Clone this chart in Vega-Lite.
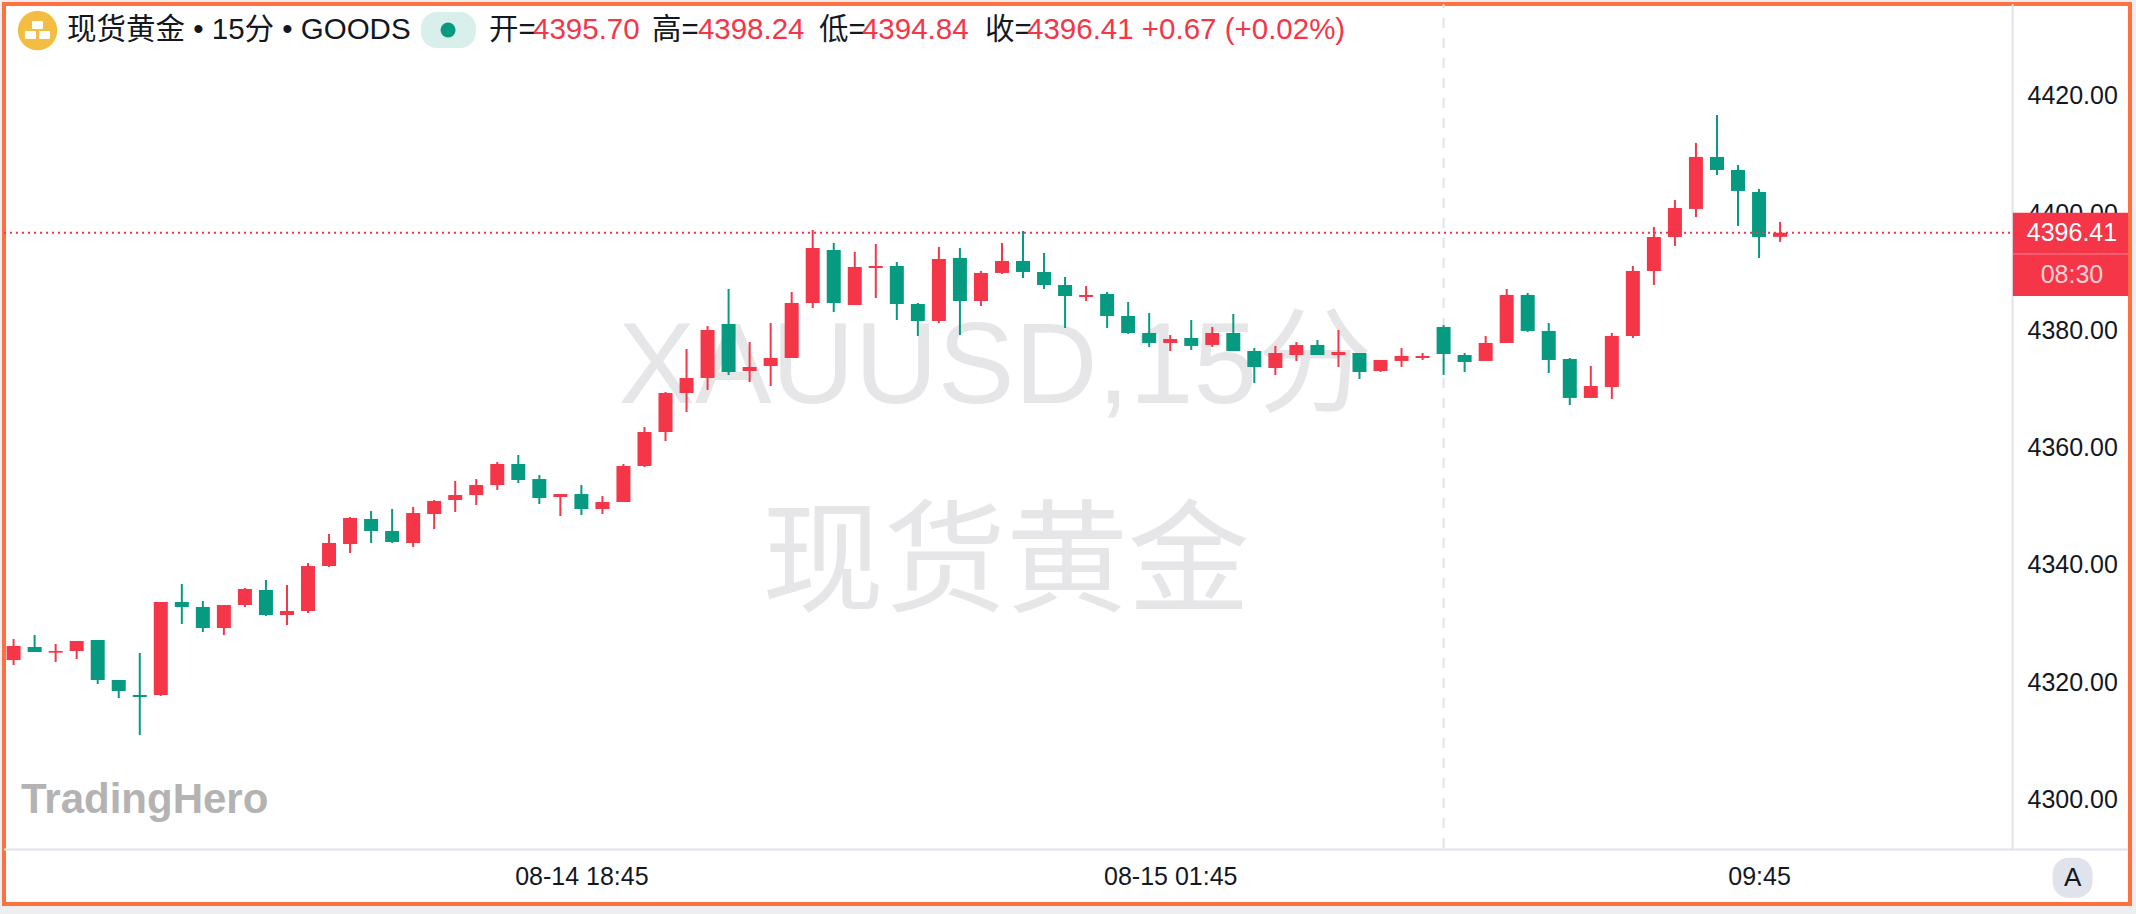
{
  "$schema": "https://vega.github.io/schema/vega-lite/v6.json",
  "width": 2126,
  "height": 900,
  "autosize": {"type": "none"},
  "padding": {"left": 4, "top": 4, "right": 6, "bottom": 10},
  "background": "#eeeef0",
  "view": {"fill": "#ffffff", "stroke": "#ff7040", "strokeWidth": 4},
  "config": {"font": "Liberation Sans, Noto Sans CJK SC"},
  "resolve": {"axis": {"x": "independent", "y": "independent"}},
  "datasets": {
    "candles": [
      {"bar":0,"open":4323.52,"high":4327.10,"low":4322.67,"close":4325.91,"dir":"up"},
      {"bar":1,"open":4325.74,"high":4327.79,"low":4324.89,"close":4324.89,"dir":"down"},
      {"bar":2,"open":4324.77,"high":4326.25,"low":4323.18,"close":4325.06,"dir":"up"},
      {"bar":3,"open":4325.06,"high":4326.76,"low":4323.69,"close":4326.76,"dir":"up"},
      {"bar":4,"open":4326.93,"high":4326.93,"low":4319.43,"close":4320.11,"dir":"down"},
      {"bar":5,"open":4320.11,"high":4320.11,"low":4317.04,"close":4318.23,"dir":"down"},
      {"bar":6,"open":4317.55,"high":4324.72,"low":4310.73,"close":4317.21,"dir":"down"},
      {"bar":7,"open":4317.55,"high":4333.42,"low":4317.38,"close":4333.42,"dir":"up"},
      {"bar":8,"open":4333.42,"high":4336.49,"low":4329.66,"close":4332.56,"dir":"down"},
      {"bar":9,"open":4332.56,"high":4333.59,"low":4328.30,"close":4328.98,"dir":"down"},
      {"bar":10,"open":4328.98,"high":4332.90,"low":4327.79,"close":4332.90,"dir":"up"},
      {"bar":11,"open":4332.90,"high":4335.80,"low":4332.56,"close":4335.63,"dir":"up"},
      {"bar":12,"open":4335.46,"high":4337.17,"low":4331.03,"close":4331.20,"dir":"down"},
      {"bar":13,"open":4331.20,"high":4336.32,"low":4329.49,"close":4331.88,"dir":"up"},
      {"bar":14,"open":4331.88,"high":4340.06,"low":4331.53,"close":4339.55,"dir":"up"},
      {"bar":15,"open":4339.55,"high":4345.01,"low":4339.38,"close":4343.48,"dir":"up"},
      {"bar":16,"open":4343.30,"high":4347.91,"low":4341.77,"close":4347.74,"dir":"up"},
      {"bar":17,"open":4347.57,"high":4348.93,"low":4343.48,"close":4345.52,"dir":"down"},
      {"bar":18,"open":4345.52,"high":4349.28,"low":4343.48,"close":4343.65,"dir":"down"},
      {"bar":19,"open":4343.48,"high":4349.62,"low":4342.79,"close":4348.59,"dir":"up"},
      {"bar":20,"open":4348.42,"high":4350.81,"low":4345.86,"close":4350.64,"dir":"up"},
      {"bar":21,"open":4350.81,"high":4354.05,"low":4348.76,"close":4351.66,"dir":"up"},
      {"bar":22,"open":4351.66,"high":4354.39,"low":4349.96,"close":4353.37,"dir":"up"},
      {"bar":23,"open":4353.37,"high":4357.29,"low":4352.52,"close":4356.95,"dir":"up"},
      {"bar":24,"open":4356.95,"high":4358.49,"low":4353.71,"close":4354.22,"dir":"down"},
      {"bar":25,"open":4354.39,"high":4355.07,"low":4350.13,"close":4351.15,"dir":"down"},
      {"bar":26,"open":4351.32,"high":4351.83,"low":4348.08,"close":4351.83,"dir":"up"},
      {"bar":27,"open":4351.83,"high":4353.37,"low":4348.25,"close":4349.28,"dir":"down"},
      {"bar":28,"open":4349.28,"high":4351.49,"low":4348.42,"close":4350.47,"dir":"up"},
      {"bar":29,"open":4350.47,"high":4356.95,"low":4350.47,"close":4356.61,"dir":"up"},
      {"bar":30,"open":4356.61,"high":4363.26,"low":4356.44,"close":4362.41,"dir":"up"},
      {"bar":31,"open":4362.41,"high":4369.23,"low":4360.87,"close":4369.06,"dir":"up"},
      {"bar":32,"open":4369.06,"high":4376.57,"low":4365.82,"close":4371.62,"dir":"up"},
      {"bar":33,"open":4371.63,"high":4380.50,"low":4369.58,"close":4379.81,"dir":"up"},
      {"bar":34,"open":4380.84,"high":4386.81,"low":4372.14,"close":4372.65,"dir":"down"},
      {"bar":35,"open":4372.82,"high":4377.77,"low":4370.94,"close":4373.50,"dir":"up"},
      {"bar":36,"open":4373.67,"high":4381.01,"low":4370.26,"close":4375.04,"dir":"up"},
      {"bar":37,"open":4375.04,"high":4386.30,"low":4375.04,"close":4384.42,"dir":"up"},
      {"bar":38,"open":4384.42,"high":4396.87,"low":4383.57,"close":4393.80,"dir":"up"},
      {"bar":39,"open":4393.46,"high":4394.66,"low":4382.89,"close":4384.42,"dir":"down"},
      {"bar":40,"open":4384.08,"high":4393.12,"low":4384.08,"close":4390.56,"dir":"up"},
      {"bar":41,"open":4390.39,"high":4394.48,"low":4385.27,"close":4390.73,"dir":"up"},
      {"bar":42,"open":4390.73,"high":4391.41,"low":4381.52,"close":4384.25,"dir":"down"},
      {"bar":43,"open":4384.25,"high":4384.42,"low":4378.79,"close":4381.35,"dir":"down"},
      {"bar":44,"open":4381.35,"high":4393.97,"low":4381.01,"close":4391.93,"dir":"up"},
      {"bar":45,"open":4392.10,"high":4393.80,"low":4378.96,"close":4384.76,"dir":"down"},
      {"bar":46,"open":4384.76,"high":4389.88,"low":4383.91,"close":4389.54,"dir":"up"},
      {"bar":47,"open":4389.54,"high":4394.66,"low":4389.37,"close":4391.58,"dir":"up"},
      {"bar":48,"open":4391.58,"high":4396.70,"low":4388.68,"close":4389.71,"dir":"down"},
      {"bar":49,"open":4389.71,"high":4392.95,"low":4386.81,"close":4387.49,"dir":"down"},
      {"bar":50,"open":4387.49,"high":4388.86,"low":4380.16,"close":4385.61,"dir":"down"},
      {"bar":51,"open":4385.44,"high":4387.32,"low":4384.76,"close":4385.78,"dir":"up"},
      {"bar":52,"open":4385.96,"high":4386.30,"low":4380.16,"close":4382.20,"dir":"down"},
      {"bar":53,"open":4382.20,"high":4384.59,"low":4379.13,"close":4379.30,"dir":"down"},
      {"bar":54,"open":4379.30,"high":4382.71,"low":4376.91,"close":4377.60,"dir":"down"},
      {"bar":55,"open":4377.60,"high":4378.96,"low":4376.23,"close":4378.28,"dir":"up"},
      {"bar":56,"open":4378.45,"high":4381.52,"low":4376.40,"close":4377.09,"dir":"down"},
      {"bar":57,"open":4377.26,"high":4380.33,"low":4376.91,"close":4379.30,"dir":"up"},
      {"bar":58,"open":4379.30,"high":4382.54,"low":4376.23,"close":4376.23,"dir":"down"},
      {"bar":59,"open":4376.23,"high":4376.74,"low":4370.77,"close":4373.50,"dir":"down"},
      {"bar":60,"open":4373.33,"high":4377.09,"low":4372.14,"close":4375.89,"dir":"up"},
      {"bar":61,"open":4375.55,"high":4377.77,"low":4374.53,"close":4377.26,"dir":"up"},
      {"bar":62,"open":4377.26,"high":4378.11,"low":4375.55,"close":4375.55,"dir":"down"},
      {"bar":63,"open":4375.55,"high":4379.81,"low":4373.50,"close":4376.06,"dir":"up"},
      {"bar":64,"open":4375.89,"high":4375.89,"low":4371.46,"close":4372.65,"dir":"down"},
      {"bar":65,"open":4372.82,"high":4374.70,"low":4372.65,"close":4374.70,"dir":"up"},
      {"bar":66,"open":4374.53,"high":4376.75,"low":4373.51,"close":4375.38,"dir":"up"},
      {"bar":67,"open":4375.04,"high":4375.89,"low":4374.70,"close":4375.38,"dir":"up"},
      {"bar":68,"open":4380.33,"high":4380.67,"low":4372.14,"close":4375.72,"dir":"down"},
      {"bar":69,"open":4375.55,"high":4375.89,"low":4372.65,"close":4374.36,"dir":"down"},
      {"bar":70,"open":4374.53,"high":4378.79,"low":4374.53,"close":4377.60,"dir":"up"},
      {"bar":71,"open":4377.60,"high":4386.81,"low":4377.60,"close":4385.79,"dir":"up"},
      {"bar":72,"open":4385.79,"high":4386.13,"low":4379.48,"close":4379.65,"dir":"down"},
      {"bar":73,"open":4379.65,"high":4381.01,"low":4372.48,"close":4374.70,"dir":"down"},
      {"bar":74,"open":4374.87,"high":4375.04,"low":4367.02,"close":4368.22,"dir":"down"},
      {"bar":75,"open":4368.22,"high":4373.68,"low":4368.22,"close":4370.26,"dir":"up"},
      {"bar":76,"open":4370.09,"high":4379.31,"low":4368.05,"close":4378.79,"dir":"up"},
      {"bar":77,"open":4378.79,"high":4390.73,"low":4378.45,"close":4389.88,"dir":"up"},
      {"bar":78,"open":4389.88,"high":4397.39,"low":4387.49,"close":4395.68,"dir":"up"},
      {"bar":79,"open":4395.68,"high":4401.99,"low":4394.15,"close":4400.63,"dir":"up"},
      {"bar":80,"open":4400.46,"high":4411.72,"low":4399.09,"close":4409.33,"dir":"up"},
      {"bar":81,"open":4409.33,"high":4416.49,"low":4406.26,"close":4407.11,"dir":"down"},
      {"bar":82,"open":4407.11,"high":4407.96,"low":4397.56,"close":4403.53,"dir":"down"},
      {"bar":83,"open":4403.36,"high":4403.87,"low":4392.10,"close":4395.68,"dir":"down"},
      {"bar":84,"open":4395.70,"high":4398.24,"low":4394.84,"close":4396.41,"dir":"up"}
    ]
  },
  "layer": [
    {
      "data": {"values": [{"label": "XAUUSD,15分"}]},
      "mark": {"type": "text", "fontSize": 115, "color": "#e6e6e8", "align": "center", "baseline": "middle"},
      "encoding": {
        "x": {"datum": 46.68, "type": "quantitative", "axis": null},
        "y": {"datum": 4373.3, "type": "quantitative", "axis": null},
        "text": {"field": "label"}
      }
    },
    {
      "data": {"values": [{"label": "现货黄金"}]},
      "mark": {"type": "text", "fontSize": 122, "color": "#e6e6e8", "align": "center", "baseline": "middle"},
      "encoding": {
        "x": {"datum": 47.19, "type": "quantitative", "axis": null},
        "y": {"datum": 4339.7, "type": "quantitative", "axis": null},
        "text": {"field": "label"}
      }
    },
    {
      "data": {"values": [{"label": "TradingHero"}]},
      "mark": {"type": "text", "fontSize": 42, "fontWeight": "bold", "color": "#b3b3b3", "align": "left", "baseline": "alphabetic"},
      "encoding": {
        "x": {"datum": 0.35, "type": "quantitative", "axis": null},
        "y": {"datum": 4297.42, "type": "quantitative", "axis": null},
        "text": {"field": "label"}
      }
    },
    {
      "data": {"values": [{"bar": 68, "top": 4435.42, "bottom": 4291.2}]},
      "mark": {"type": "rule", "color": "#e0e3eb", "strokeWidth": 2, "strokeDash": [10, 10], "strokeDashOffset": 6},
      "encoding": {
        "x": {"field": "bar", "type": "quantitative", "axis": null},
        "y": {"field": "top", "type": "quantitative", "axis": null},
        "y2": {"field": "bottom"}
      }
    },
    {
      "data": {"values": [{"from": 95.06, "top": 4435.42, "bottom": 4291.2}]},
      "mark": {"type": "rule", "color": "#e0e3eb", "strokeWidth": 2},
      "encoding": {
        "x": {"field": "from", "type": "quantitative", "axis": null},
        "y": {"field": "top", "type": "quantitative", "axis": null},
        "y2": {"field": "bottom"}
      }
    },
    {
      "data": {"values": [{"from": -0.456, "to": 100.55, "at": 4291.2}]},
      "mark": {"type": "rule", "color": "#e0e3eb", "strokeWidth": 2},
      "encoding": {
        "x": {"field": "from", "type": "quantitative", "axis": null},
        "x2": {"field": "to"},
        "y": {"field": "at", "type": "quantitative", "axis": null}
      }
    },
    {
      "data": {"name": "candles"},
      "mark": {"type": "rule", "strokeWidth": 2},
      "encoding": {
        "x": {
          "field": "bar",
          "type": "quantitative",
          "title": null,
          "scale": {"domain": [-0.456, 100.64], "nice": false, "zero": false, "padding": 0},
          "axis": {
            "orient": "bottom",
            "offset": -54.5,
            "values": [27, 55, 83],
            "labelExpr": "datum.value == 27 ? '08-14 18:45' : datum.value == 55 ? '08-15 01:45' : '09:45'",
            "labelFontSize": 25,
            "labelColor": "#131722",
            "labelPadding": 15,
            "labelOverlap": false,
            "labelFlush": false,
            "domain": false,
            "ticks": false,
            "grid": false
          }
        },
        "y": {
          "field": "low",
          "type": "quantitative",
          "title": null,
          "scale": {"domain": [4281.9, 4435.42], "nice": false, "zero": false, "padding": 0},
          "axis": {
            "orient": "right",
            "offset": -117,
            "values": [4300, 4320, 4340, 4360, 4380, 4400, 4420],
            "format": ".2f",
            "labelFontSize": 25,
            "labelColor": "#131722",
            "labelPadding": 14,
            "labelOffset": 1.5,
            "labelAlign": "left",
            "labelOverlap": false,
            "labelFlush": false,
            "domain": false,
            "ticks": false,
            "grid": false
          }
        },
        "y2": {"field": "high"},
        "color": {
          "field": "dir",
          "type": "nominal",
          "scale": {"domain": ["up", "down"], "range": ["#f43648", "#069b80"]},
          "legend": null
        }
      }
    },
    {
      "data": {"name": "candles"},
      "mark": {"type": "bar", "size": 14, "orient": "vertical"},
      "encoding": {
        "x": {"field": "bar", "type": "quantitative", "axis": null},
        "y": {"field": "open", "type": "quantitative", "axis": null},
        "y2": {"field": "close"},
        "color": {"field": "dir", "type": "nominal", "legend": null}
      }
    },
    {
      "data": {"values": [{"price": 4396.41, "from": -0.456, "to": 95.06}]},
      "mark": {"type": "rule", "color": "#f43648", "strokeWidth": 2, "strokeDash": [2, 4]},
      "encoding": {
        "x": {"field": "from", "type": "quantitative", "axis": null},
        "x2": {"field": "to"},
        "y": {"field": "price", "type": "quantitative", "axis": null}
      }
    },
    {
      "data": {"values": [{"from": 95.07, "to": 100.55, "top": 4399.82, "bottom": 4385.61}]},
      "mark": {"type": "rect", "color": "#f43648"},
      "encoding": {
        "x": {"field": "from", "type": "quantitative", "axis": null},
        "x2": {"field": "to"},
        "y": {"field": "top", "type": "quantitative", "axis": null},
        "y2": {"field": "bottom"}
      }
    },
    {
      "data": {"values": [{"from": 95.07, "to": 100.55, "at": 4392.78}]},
      "mark": {"type": "rule", "color": "#f98a96", "strokeWidth": 1},
      "encoding": {
        "x": {"field": "from", "type": "quantitative", "axis": null},
        "x2": {"field": "to"},
        "y": {"field": "at", "type": "quantitative", "axis": null}
      }
    },
    {
      "data": {"values": [{"label": "4396.41"}]},
      "mark": {"type": "text", "fontSize": 25, "color": "#ffffff", "align": "center", "baseline": "middle"},
      "encoding": {
        "x": {"datum": 97.88, "type": "quantitative", "axis": null},
        "y": {"datum": 4396.36, "type": "quantitative", "axis": null},
        "text": {"field": "label"}
      }
    },
    {
      "data": {"values": [{"label": "08:30"}]},
      "mark": {"type": "text", "fontSize": 25, "color": "#fbd0d5", "align": "center", "baseline": "middle"},
      "encoding": {
        "x": {"datum": 97.88, "type": "quantitative", "axis": null},
        "y": {"datum": 4389.2, "type": "quantitative", "axis": null},
        "text": {"field": "label"}
      }
    },
    {
      "data": {"values": [{"from": 96.96, "to": 98.86, "top": 4289.8, "bottom": 4282.98}]},
      "mark": {"type": "rect", "color": "#e0e3eb", "cornerRadius": 16},
      "encoding": {
        "x": {"field": "from", "type": "quantitative", "axis": null},
        "x2": {"field": "to"},
        "y": {"field": "top", "type": "quantitative", "axis": null},
        "y2": {"field": "bottom"}
      }
    },
    {
      "data": {"values": [{"label": "A"}]},
      "mark": {"type": "text", "fontSize": 26, "color": "#131722", "align": "center", "baseline": "middle"},
      "encoding": {
        "x": {"datum": 97.91, "type": "quantitative", "axis": null},
        "y": {"datum": 4286.39, "type": "quantitative", "axis": null},
        "text": {"field": "label"}
      }
    },
    {
      "data": {"values": [{"bar": 1.14, "price": 4430.9}]},
      "mark": {"type": "point", "shape": "circle", "filled": true, "size": 1560, "color": "#f2bd42", "opacity": 1},
      "encoding": {
        "x": {"field": "bar", "type": "quantitative", "axis": null},
        "y": {"field": "price", "type": "quantitative", "axis": null}
      }
    },
    {
      "data": {"values": [
        {"from": 0.875, "to": 1.4, "top": 4432.52, "bottom": 4431.16},
        {"from": 0.54, "to": 1.065, "top": 4430.82, "bottom": 4429.45},
        {"from": 1.21, "to": 1.73, "top": 4430.82, "bottom": 4429.45}
      ]},
      "mark": {"type": "rect", "color": "#ffffff", "cornerRadius": 1},
      "encoding": {
        "x": {"field": "from", "type": "quantitative", "axis": null},
        "x2": {"field": "to"},
        "y": {"field": "top", "type": "quantitative", "axis": null},
        "y2": {"field": "bottom"}
      }
    },
    {
      "data": {"values": [{"from": 19.37, "to": 21.99, "top": 4434.06, "bottom": 4427.92}]},
      "mark": {"type": "rect", "color": "#d9efec", "cornerRadius": 16},
      "encoding": {
        "x": {"field": "from", "type": "quantitative", "axis": null},
        "x2": {"field": "to"},
        "y": {"field": "top", "type": "quantitative", "axis": null},
        "y2": {"field": "bottom"}
      }
    },
    {
      "data": {"values": [{"bar": 20.66, "price": 4430.99}]},
      "mark": {"type": "point", "shape": "circle", "filled": true, "size": 225, "color": "#069b80", "opacity": 1},
      "encoding": {
        "x": {"field": "bar", "type": "quantitative", "axis": null},
        "y": {"field": "price", "type": "quantitative", "axis": null}
      }
    },
    {
      "data": {"values": [
        {"label": "现货黄金 • 15分 • GOODS", "bar": 2.54},
        {"label": "开=", "bar": 22.61},
        {"label": "高=", "bar": 30.36},
        {"label": "低=", "bar": 38.3},
        {"label": "收=", "bar": 46.19}
      ]},
      "mark": {"type": "text", "fontSize": 29.5, "align": "left", "baseline": "middle", "color": "#131722"},
      "encoding": {
        "x": {"field": "bar", "type": "quantitative", "axis": null},
        "y": {"datum": 4430.99, "type": "quantitative", "axis": null},
        "text": {"field": "label"}
      }
    },
    {
      "data": {"values": [
        {"label": "4395.70", "bar": 24.7},
        {"label": "4398.24", "bar": 32.54},
        {"label": "4394.84", "bar": 40.34},
        {"label": "4396.41 +0.67 (+0.02%)", "bar": 48.19}
      ]},
      "mark": {"type": "text", "fontSize": 29.5, "align": "left", "baseline": "middle", "color": "#f43648"},
      "encoding": {
        "x": {"field": "bar", "type": "quantitative", "axis": null},
        "y": {"datum": 4430.99, "type": "quantitative", "axis": null},
        "text": {"field": "label"}
      }
    }
  ]
}
